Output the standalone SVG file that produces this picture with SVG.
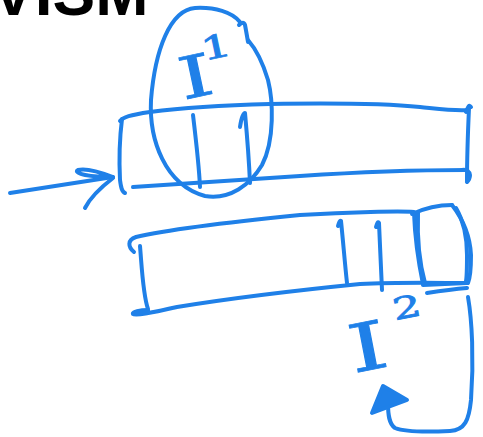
<svg xmlns="http://www.w3.org/2000/svg" width="483" height="437" viewBox="0 0 483 437">
<style>
.s{fill:none;stroke:#1f80e8;stroke-width:4;stroke-linecap:round;stroke-linejoin:round}
.t{fill:#1f80e8;stroke:#1f80e8;stroke-width:0.8;font-family:"DejaVu Serif",serif}
.h{fill:#000;font-family:"Liberation Sans",Arial,sans-serif;font-weight:bold}
</style>
<rect width="483" height="437" fill="#fff"/>
<g id="heading"><text class="h" x="-8" y="15" font-size="64">VISM</text></g>
<g id="bar1">
<path class="s" d="M120,121 C123,117 130,115 150,112 C180,108 230,105 270,104 C330,103 380,103 420,107 C440,109 455,111 467,110"/>
<path class="s" d="M466,112 C468,107 469,104 471,107"/>
<path class="s" d="M469,108 C468,130 467,160 467,181"/>
<path class="s" d="M462,170 C467,169 470,172 470,175 C470,178 469,180 467,182"/>
<path class="s" d="M122,119 C120,135 119,160 120,180 C121,188 122,192 125,193"/>
<path class="s" d="M133,187 C180,184 240,180 300,176 C360,172 420,170 466,170"/>
<path class="s" d="M193,115 C196,140 199,165 200,187"/>
<path class="s" d="M240,127 C241,120 243,113 245,113 C247,135 249,160 250,183"/>
</g>
<g id="ellipse">
<path class="s" d="M240,22 C232,12 215,7 195,8 C170,10 155,50 151,100 C149,140 165,185 205,196 C230,200 250,185 262,165 C275,140 273,100 268,80 C262,60 255,48 248,40"/>
<path class="s" d="M239,25 C242,22 244,22 245,25 C246,30 247,36 248,42"/>
</g>
<g id="label1">
<text class="t" font-size="58" transform="translate(202,96) rotate(-12) scale(1.5,1)"><tspan x="-13" y="0">I</tspan><tspan dx="-4" dy="-34" font-size="32">1</tspan></text>
</g>
<g id="bar2">
<path class="s" d="M134,252 C128,247 127,240 136,237 C170,229 230,222 300,215 C350,212 400,211 414,212"/>
<path class="s" d="M140,246 C142,270 143,295 148,309"/>
<path class="s" d="M148,310 C140,310 132,312 133,314 C135,316 150,313 177,307 C220,300 300,290 360,284 C400,282 440,283 467,283"/>
<path class="s" d="M338,226 C339,222 340,220 341,221 C343,240 345,265 347,283"/>
<path class="s" d="M376,227 C377,223 378,221 379,223 C380,245 381,270 382,290"/>
</g>
<g id="box">
<path class="s" d="M414,213 C415,240 419,265 423,284"/>
<path class="s" d="M418,213 C417,240 420,265 425,283"/>
<path class="s" d="M412,214 C425,208 440,205 452,205"/>
<path class="s" d="M452,205 C462,218 470,235 471,255 C471,270 470,278 468,283"/>
<path class="s" d="M456,208 C463,220 467,235 467,255 C467,268 467,276 466,281"/>
<path class="s" d="M423,285 L467,283"/>
<path class="s" d="M427,293 C440,291 455,289 467,288"/>
</g>
<g id="label2">
<text class="t" font-size="66" transform="translate(375,369) rotate(-11) scale(1.5,1)"><tspan x="-15" y="0">I</tspan><tspan dx="8" dy="-44" font-size="30">2</tspan></text>
</g>
<g id="connectors">
<path class="s" d="M10,193 L113,177"/>
<path class="s" d="M113,177 C100,172 85,168 78,170 C74,172 80,176 106,177"/>
<path class="s" d="M113,178 C100,188 90,198 85,208"/>
<path class="s" d="M468,297 C472,320 474,360 471,400 C469,420 465,430 450,431 C430,432 405,432 395,428 C389,424 388,415 388,403"/>
<path class="s" d="M383,386 L372,413 L407,400 Z" style="fill:#1f80e8"/>
</g>
</svg>
